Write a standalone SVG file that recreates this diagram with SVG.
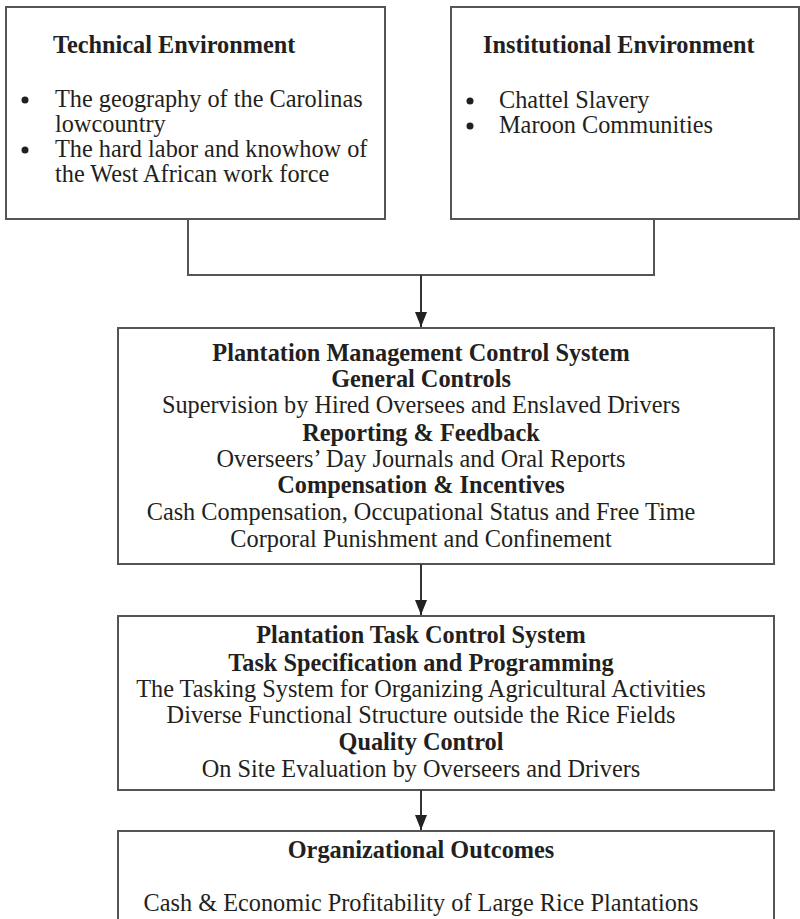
<svg xmlns="http://www.w3.org/2000/svg" width="800" height="919" viewBox="0 0 800 919">
<defs>
<marker id="ah" viewBox="0 0 15 12" refX="15" refY="6" markerWidth="15" markerHeight="12" markerUnits="userSpaceOnUse" orient="auto">
<path d="M0,0 L15,6 L0,12 Z" fill="#222"/>
</marker>
<style>
.box{fill:#fff;stroke:#555;stroke-width:2}
.t{font-family:"Liberation Serif","Times New Roman",serif;font-size:24.3px;fill:#231f20}
.b{font-weight:bold}
.c{text-anchor:middle}
.ln{fill:none;stroke:#555;stroke-width:2}
.ar{fill:none;stroke:#333;stroke-width:2}
</style>
</defs>
<rect width="800" height="919" fill="#fff"/>
<g id="technical">
<rect class="box" x="6" y="7" width="379" height="212"/>
<text class="t b" x="53" y="53">Technical Environment</text>
<circle cx="25" cy="100" r="3.5" fill="#231f20"/>
<text class="t" x="55" y="107">The geography of the Carolinas</text>
<text class="t" x="55" y="132">lowcountry</text>
<circle cx="25" cy="150" r="3.5" fill="#231f20"/>
<text class="t" x="55" y="157">The hard labor and knowhow of</text>
<text class="t" x="55" y="182">the West African work force</text>
</g>
<g id="institutional">
<rect class="box" x="451" y="7" width="348" height="212"/>
<text class="t b" x="483" y="53">Institutional Environment</text>
<circle cx="470" cy="101" r="3.5" fill="#231f20"/>
<text class="t" x="499" y="108">Chattel Slavery</text>
<circle cx="470" cy="126" r="3.5" fill="#231f20"/>
<text class="t" x="499" y="133">Maroon Communities</text>
</g>
<g id="management">
<rect class="box" x="118" y="328" width="656" height="236"/>
<text class="t b c" x="421" y="361">Plantation Management Control System</text>
<text class="t b c" x="421" y="387">General Controls</text>
<text class="t c" x="421" y="413">Supervision by Hired Oversees and Enslaved Drivers</text>
<text class="t b c" x="421" y="441">Reporting &amp; Feedback</text>
<text class="t c" x="421" y="467">Overseers’ Day Journals and Oral Reports</text>
<text class="t b c" x="421" y="493">Compensation &amp; Incentives</text>
<text class="t c" x="421" y="520">Cash Compensation, Occupational Status and Free Time</text>
<text class="t c" x="421" y="547">Corporal Punishment and Confinement</text>
</g>
<g id="task">
<rect class="box" x="118" y="616" width="656" height="174"/>
<text class="t b c" x="421" y="643">Plantation Task Control System</text>
<text class="t b c" x="421" y="671">Task Specification and Programming</text>
<text class="t c" x="421" y="697">The Tasking System for Organizing Agricultural Activities</text>
<text class="t c" x="421" y="723">Diverse Functional Structure outside the Rice Fields</text>
<text class="t b c" x="421" y="750">Quality Control</text>
<text class="t c" x="421" y="777">On Site Evaluation by Overseers and Drivers</text>
</g>
<g id="outcomes">
<rect class="box" x="118" y="831" width="656" height="110"/>
<text class="t b c" x="421" y="858">Organizational Outcomes</text>
<text class="t c" x="421" y="911">Cash &amp; Economic Profitability of Large Rice Plantations</text>
</g>
<g id="connectors">
<path class="ln" d="M188,219 V275 H654 V219"/>
<line class="ar" x1="421" y1="275" x2="421" y2="327" marker-end="url(#ah)"/>
<line class="ar" x1="421" y1="564" x2="421" y2="615" marker-end="url(#ah)"/>
<line class="ar" x1="421" y1="790" x2="421" y2="830" marker-end="url(#ah)"/>
</g>
</svg>
